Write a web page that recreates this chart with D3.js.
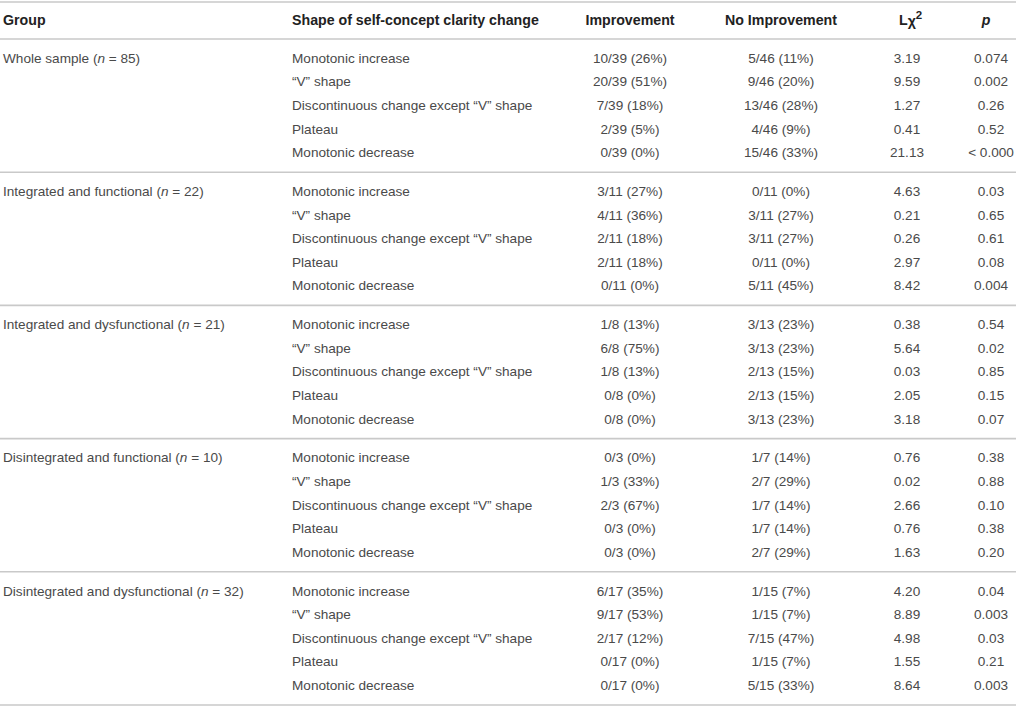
<!DOCTYPE html>
<html>
<head>
<meta charset="utf-8">
<script src="https://cdn.jsdelivr.net/npm/d3@7"></script>
<style>
  body { margin: 0; background: #fff; }
  text { font-family: "Liberation Sans", Arial, sans-serif; }
</style>
</head>
<body>
<div id="table-container"></div>
<script>
// table size
const width = 1016;
const height = 707;

const groups = ["Whole sample", "Integrated and functional", "Integrated and dysfunctional",
                "Disintegrated and functional", "Disintegrated and dysfunctional"];
const groupN = [85, 22, 21, 10, 32];
const shapes = ["Monotonic increase", "\u201CV\u201D shape", "Discontinuous change except \u201CV\u201D shape",
                "Plateau", "Monotonic decrease"];

const improvement = [
  ["10/39 (26%)", "20/39 (51%)", "7/39 (18%)", "2/39 (5%)", "0/39 (0%)"],
  ["3/11 (27%)", "4/11 (36%)", "2/11 (18%)", "2/11 (18%)", "0/11 (0%)"],
  ["1/8 (13%)", "6/8 (75%)", "1/8 (13%)", "0/8 (0%)", "0/8 (0%)"],
  ["0/3 (0%)", "1/3 (33%)", "2/3 (67%)", "0/3 (0%)", "0/3 (0%)"],
  ["6/17 (35%)", "9/17 (53%)", "2/17 (12%)", "0/17 (0%)", "0/17 (0%)"]
];
const noImprovement = [
  ["5/46 (11%)", "9/46 (20%)", "13/46 (28%)", "4/46 (9%)", "15/46 (33%)"],
  ["0/11 (0%)", "3/11 (27%)", "3/11 (27%)", "0/11 (0%)", "5/11 (45%)"],
  ["3/13 (23%)", "3/13 (23%)", "2/13 (15%)", "2/13 (15%)", "3/13 (23%)"],
  ["1/7 (14%)", "2/7 (29%)", "1/7 (14%)", "1/7 (14%)", "2/7 (29%)"],
  ["1/15 (7%)", "1/15 (7%)", "7/15 (47%)", "1/15 (7%)", "5/15 (33%)"]
];
const lchi2 = [
  ["3.19", "9.59", "1.27", "0.41", "21.13"],
  ["4.63", "0.21", "0.26", "2.97", "8.42"],
  ["0.38", "5.64", "0.03", "2.05", "3.18"],
  ["0.76", "0.02", "2.66", "0.76", "1.63"],
  ["4.20", "8.89", "4.98", "1.55", "8.64"]
];
const pValues = [
  ["0.074", "0.002", "0.26", "0.52", "< 0.000"],
  ["0.03", "0.65", "0.61", "0.08", "0.004"],
  ["0.54", "0.02", "0.85", "0.15", "0.07"],
  ["0.38", "0.88", "0.10", "0.38", "0.20"],
  ["0.04", "0.003", "0.03", "0.21", "0.003"]
];

const svg = d3.select("#table-container")
  .append("svg")
  .attr("width", width)
  .attr("height", height);

// column anchors
const colX = { group: 3, shape: 292, imp: 630, noimp: 781, chi: 907, p: 991 };

// vertical layout: group blocks and rows within them
const groupY = d3.scaleLinear().domain([0, groups.length]).range([58, 58 + groups.length * 133.2]);
const rowStep = 23.6;
const baseOff = 4.7; // row center -> text baseline

const lineColor = "#c9c9c9";
const bodyColor = "#4a4a4a";
const fontSize = 13.6;
const headSize = 14.2;

// rules
const rules = [2, 39].concat(d3.range(groups.length).map(g => groupY(g + 1) - 19));
svg.selectAll("line.rule")
  .data(rules)
  .enter()
  .append("line")
  .attr("class", "rule")
  .attr("x1", 0).attr("x2", width)
  .attr("y1", d => d).attr("y2", d => d)
  .attr("stroke", lineColor)
  .attr("stroke-width", 1.6);

// header
const header = svg.append("g")
  .attr("font-weight", "bold")
  .attr("font-size", headSize)
  .attr("fill", "#222");
const headY = 20 + 5;
header.append("text").attr("x", colX.group).attr("y", headY).text("Group");
header.append("text").attr("x", colX.shape).attr("y", headY).text("Shape of self-concept clarity change");
header.append("text").attr("x", colX.imp).attr("y", headY).attr("text-anchor", "middle").text("Improvement");
header.append("text").attr("x", colX.noimp).attr("y", headY).attr("text-anchor", "middle").text("No Improvement");
const chiHead = header.append("text").attr("x", colX.chi - 8).attr("y", headY).attr("text-anchor", "start");
chiHead.append("tspan").text("L");
chiHead.append("tspan").attr("dy", 1).text("\u03C7");
chiHead.append("tspan").attr("dy", -7).attr("font-size", 11.5).text("2");
header.append("text").attr("x", colX.p - 5).attr("y", headY).attr("text-anchor", "middle")
  .attr("font-style", "italic").text("p");

// body
const body = svg.append("g")
  .attr("font-size", fontSize)
  .attr("fill", bodyColor);

groups.forEach((name, g) => {
  const y0 = groupY(g);
  const gl = body.append("text").attr("x", colX.group).attr("y", y0 + baseOff);
  gl.append("tspan").text(name + " (");
  gl.append("tspan").attr("font-style", "italic").text("n");
  gl.append("tspan").text(" = " + groupN[g] + ")");

  const rows = shapes.map((s, r) => ({
    shape: s, imp: improvement[g][r], noimp: noImprovement[g][r], chi: lchi2[g][r], p: pValues[g][r], r: r
  }));
  const rowY = d => y0 + d.r * rowStep + baseOff;

  body.selectAll(null).data(rows).enter().append("text")
    .attr("x", colX.shape).attr("y", rowY).text(d => d.shape);
  body.selectAll(null).data(rows).enter().append("text")
    .attr("x", colX.imp).attr("y", rowY).attr("text-anchor", "middle").text(d => d.imp);
  body.selectAll(null).data(rows).enter().append("text")
    .attr("x", colX.noimp).attr("y", rowY).attr("text-anchor", "middle").text(d => d.noimp);
  body.selectAll(null).data(rows).enter().append("text")
    .attr("x", colX.chi).attr("y", rowY).attr("text-anchor", "middle").text(d => d.chi);
  body.selectAll(null).data(rows).enter().append("text")
    .attr("x", colX.p).attr("y", rowY).attr("text-anchor", "middle").text(d => d.p);
});
</script>
</body>
</html>
